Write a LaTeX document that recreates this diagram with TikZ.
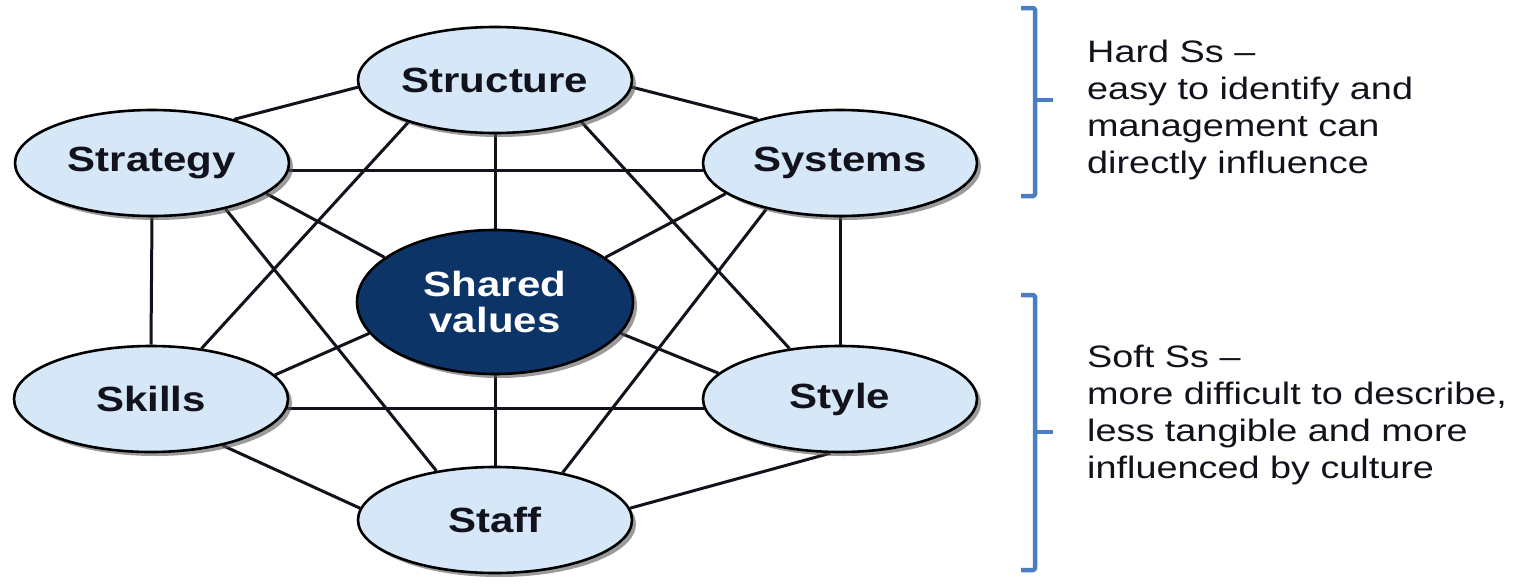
\documentclass[tikz,border=0pt]{standalone}
\usepackage{fontspec}
\setmainfont{Liberation Sans}
\newfontfamily\lblfont{Liberation Sans}[FakeStretch=1.2]
\newfontfamily\sidefont{Liberation Sans}[FakeStretch=1.22]
\usetikzlibrary{shapes.geometric,shadows,backgrounds}
\definecolor{lightfill}{RGB}{214,231,248}
\definecolor{navy}{RGB}{12,52,102}
\definecolor{brk}{RGB}{74,126,192}
\definecolor{ink}{RGB}{18,18,28}
\begin{document}
\begin{tikzpicture}[x=1pt,y=-1pt,
  sbox/.style={ellipse, draw=black, line width=2.6pt, fill=lightfill,
    minimum width=274pt, minimum height=106pt, inner sep=0pt,
    font=\lblfont\bfseries\fontsize{35}{36}\selectfont, text=ink,
    drop shadow={shadow xshift=4pt, shadow yshift=-4pt, fill=black!65, opacity=0.6}},
  core/.style={sbox, fill=navy, text=white, minimum width=276pt, minimum height=144pt, align=center},
  link/.style={line width=3pt, draw=ink},
  side/.style={anchor=base west, inner sep=0pt, font=\sidefont\fontsize{31}{37}\selectfont, text=ink},
  brace/.style={draw=brk, line width=4.5pt, line join=round, rounded corners=1.5pt}
]
\useasboundingbox (0,0) rectangle (1521,584);

\node[sbox] (structure) at (495,80) {Structure};
\node[sbox] (strategy) at (152,163) {Strategy};
\node[sbox] (systems) at (840,163) {Systems};
\node[core] (shared) at (495,302) {Shared\\values};
\node[sbox] (skills) at (151,399) {Skills};
\node[sbox] (style) at (840,399) {Style};
\node[sbox] (staff) at (495,520) {Staff};

\begin{scope}[on background layer]
\fill[white] (0,0) rectangle (1521,584);
\draw[link] (strategy.28) -- (structure.183);
\draw[link] (structure.-3) -- (systems.152);
\draw[link] (strategy.-3) -- (systems.183);
\draw[link] (structure.south) -- (shared.north);
\draw[link] (strategy.-15) -- (shared.158);
\draw[link] (systems.195) -- (shared.22);
\draw[link] (strategy.south) -- (skills.north);
\draw[link] (systems.south) -- (style.north);
\draw[link] (structure.206) -- (skills.45);
\draw[link] (structure.-26) -- (style.135);
\draw[link] (strategy.-32) -- (staff.140);
\draw[link] (systems.212) -- (staff.35);
\draw[link] (skills.11) -- (shared.194);
\draw[link] (shared.-14) -- (style.168);
\draw[link] (skills.-4) -- (style.184);
\draw[link] (shared.south) -- (staff.north);
\draw[link] (skills.-33) -- (staff.175);
\draw[link] (style.260) -- (staff.5);
\end{scope}

% brackets
\coordinate (hb1) at (1021,8);
\coordinate (hb2) at (1035,8);
\coordinate (hb3) at (1035,196);
\coordinate (hb4) at (1021,196);
\coordinate (hbm) at (1035,100);
\coordinate (hbt) at (1053,100);
\draw[brace] (hb1) -- (hb2) -- (hb3) -- (hb4);
\draw[brace] (hbm) -- (hbt);

\coordinate (sb1) at (1021,295);
\coordinate (sb2) at (1035,295);
\coordinate (sb3) at (1035,570);
\coordinate (sb4) at (1021,570);
\coordinate (sbm) at (1035,432);
\coordinate (sbt) at (1053,432);
\draw[brace] (sb1) -- (sb2) -- (sb3) -- (sb4);
\draw[brace] (sbm) -- (sbt);

\node[side] (hard1) at (1087,62) {Hard Ss –};
\node[side] (hard2) at (1087,99) {easy to identify and};
\node[side] (hard3) at (1087,136) {management can};
\node[side] (hard4) at (1087,173) {directly influence};

\node[side] (soft1) at (1087,367) {Soft Ss –};
\node[side] (soft2) at (1087,404) {more difficult to describe,};
\node[side] (soft3) at (1087,441) {less tangible and more};
\node[side] (soft4) at (1087,478) {influenced by culture};
\end{tikzpicture}
\end{document}
